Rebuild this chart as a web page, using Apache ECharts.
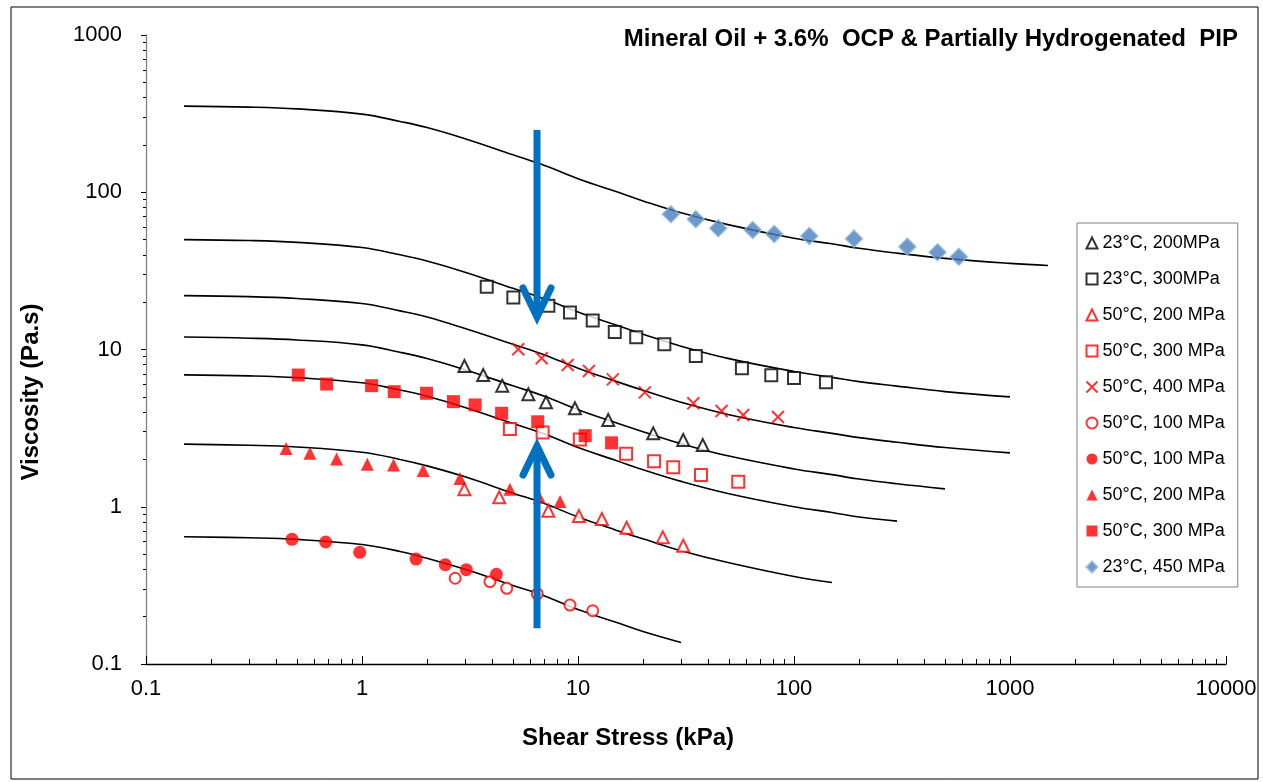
<!DOCTYPE html>
<html>
<head>
<meta charset="utf-8">
<script src="https://cdn.jsdelivr.net/npm/echarts@6/dist/echarts.min.js"></script>
<style>
  html, body { margin: 0; padding: 0; background: #fff; }
  #main { width: 1263px; height: 782px; }
</style>
</head>
<body>
<div id="main"></div>
<script>
// stress grid (kPa) shared by the model curves
var curveX = [0.15, 0.3, 0.5, 1, 1.5, 2, 3, 5, 7, 10, 15, 20, 30, 50, 100, 150, 200, 300, 500, 1000, 1500];

// model curves (viscosity Pa.s)
var fit23_450 = [353, 348, 339, 314, 282, 258, 219, 173, 148, 122, 101, 88, 74, 62, 51, 47, 44, 41, 38, 35.3, 34.2];
var fit23_300 = [50, 49.3, 48, 44.5, 40, 36.5, 31, 24.5, 21, 17.3, 14.3, 12.5, 10.5, 8.75, 7.25, 6.65, 6.25, 5.85, 5.4, 5.0];
var fit50_400 = [22, 21.7, 21.1, 19.6, 17.6, 16.1, 13.6, 10.8, 9.24, 7.6, 6.27, 5.5, 4.62, 3.85, 3.19, 2.93, 2.75, 2.57, 2.38, 2.2];
var fit23_200 = [12, 11.8, 11.5, 10.7, 9.6, 8.76, 7.44, 5.88, 5.04, 4.14, 3.42, 3.0, 2.52, 2.1, 1.74, 1.6, 1.5, 1.4, 1.3];
var fit50_300 = [6.9, 6.8, 6.62, 6.14, 5.52, 5.04, 4.28, 3.38, 2.9, 2.38, 1.97, 1.72, 1.45, 1.21, 1.0, 0.92, 0.86, 0.81];
var fit50_200 = [2.5, 2.46, 2.4, 2.22, 2.0, 1.82, 1.55, 1.22, 1.05, 0.86, 0.71, 0.625, 0.525, 0.44, 0.36, 0.33];
var fit50_100 = [0.645, 0.635, 0.62, 0.575, 0.52, 0.47, 0.40, 0.316, 0.271, 0.222, 0.184, 0.161, 0.137];

// measured points
var tri23_200X = [2.98, 3.64, 4.46, 5.89, 7.11, 9.68, 13.8, 22.3, 30.7, 37.8];
var tri23_200Y = [7.85, 6.88, 5.89, 5.19, 4.62, 4.23, 3.56, 2.93, 2.66, 2.47];
var sq23_300X = [3.78, 5.02, 7.29, 9.18, 11.7, 14.8, 18.6, 25.1, 35.1, 57.4, 78.5, 100, 140.6];
var sq23_300Y = [25.1, 21.4, 19.0, 17.2, 15.3, 12.9, 11.95, 10.8, 9.1, 7.59, 6.85, 6.59, 6.19];
var triOpen50_200X = [2.98, 4.32, 7.29, 10.1, 12.9, 16.8, 24.7, 30.7];
var triOpen50_200Y = [1.29, 1.15, 0.944, 0.873, 0.836, 0.736, 0.639, 0.565];
var sqOpen50_300X = [4.84, 6.86, 10.2, 16.7, 22.5, 27.6, 37.1, 55.2];
var sqOpen50_300Y = [3.12, 2.97, 2.68, 2.17, 1.95, 1.78, 1.59, 1.44];
var cross50_400X = [5.29, 6.79, 8.96, 11.24, 14.5, 20.4, 34.2, 46.2, 58.2, 84.3];
var cross50_400Y = [10.03, 8.79, 7.97, 7.30, 6.46, 5.34, 4.55, 4.06, 3.83, 3.72];
var circOpen50_100X = [2.70, 3.91, 4.68, 6.48, 9.18, 11.7];
var circOpen50_100Y = [0.351, 0.334, 0.303, 0.279, 0.237, 0.218];
var circ50_100X = [0.474, 0.679, 0.976, 1.78, 2.43, 3.04, 4.19];
var circ50_100Y = [0.621, 0.597, 0.513, 0.465, 0.428, 0.398, 0.372];
var tri50_200X = [0.445, 0.574, 0.763, 1.058, 1.40, 1.92, 2.84, 4.84, 6.62, 8.26];
var tri50_200Y = [2.35, 2.19, 2.01, 1.86, 1.84, 1.70, 1.51, 1.29, 1.15, 1.08];
var sq50_300X = [0.507, 0.686, 1.108, 1.41, 1.99, 2.65, 3.34, 4.43, 6.51, 10.8, 14.3];
var sq50_300Y = [6.88, 6.03, 5.89, 5.39, 5.27, 4.66, 4.44, 3.93, 3.47, 2.83, 2.55];
var dia23_450X = [26.9, 35.1, 44.6, 64.4, 81.0, 117.7, 189.6, 334.6, 462, 580];
var dia23_450Y = [72.4, 67.3, 59.0, 57.5, 54.3, 52.7, 50.7, 45.1, 41.5, 38.9];

// blue arrows: x, from, to
var arrowX = [6.46, 6.46];
var arrowFrom = [249, 0.169];
var arrowTo = [16.1, 2.43];

var FONT = "'Liberation Sans', Arial, sans-serif";
var RED = '#ff0000';

function pairs(xs, ys) {
  return ys.map(function (y, i) { return [xs[i], y]; });
}

function fit(name, ys) {
  return {
    name: name,
    type: 'line',
    data: pairs(curveX, ys),
    smooth: 0.4,
    symbol: 'none',
    silent: true,
    z: 2,
    lineStyle: { color: '#000', width: 1.6 }
  };
}

function pts(name, xs, ys, symbol, size, style) {
  return {
    name: name,
    type: 'scatter',
    data: pairs(xs, ys),
    symbol: symbol,
    symbolSize: size,
    z: 3,
    itemStyle: style
  };
}

var crossPath = 'path://M0,0L10,10M10,0L0,10';

var scatterNames = ['23°C, 200MPa', '23°C, 300MPa', '50°C, 200 MPa', '50°C, 300 MPa', '50°C, 400 MPa',
  '50°C, 100 MPa', '50°C, 100 MPa ', '50°C, 200 MPa ', '50°C, 300 MPa ', '23°C, 450 MPa'];

var myChart = echarts.init(document.getElementById('main'));

var option = {
  backgroundColor: '#fff',
  animation: false,
  title: {
    text: 'Mineral Oil + 3.6%  OCP & Partially Hydrogenated  PIP',
    right: 20,
    top: 22,
    textStyle: { fontFamily: FONT, fontSize: 24, fontWeight: 'bold', color: '#000' }
  },
  grid: { left: 146, right: 37, top: 35, bottom: 118 },
  legend: {
    data: scatterNames,
    orient: 'vertical',
    left: 1077,
    top: 223,
    itemWidth: 11,
    itemHeight: 11,
    itemGap: 16,
    padding: [10, 8, 10, 7],
    borderColor: '#7f7f7f',
    borderWidth: 1,
    textStyle: { fontFamily: FONT, fontSize: 18, lineHeight: 20, color: '#000' }
  },
  xAxis: {
    type: 'log',
    logBase: 10,
    min: 0.1,
    max: 10000,
    axisLine: { lineStyle: { color: '#000', width: 1.3 } },
    axisTick: { inside: true, length: 8, lineStyle: { color: '#000' } },
    minorTick: { show: true, splitNumber: 9, length: 5, lineStyle: { color: '#000' } },
    splitLine: { show: false },
    axisLabel: {
      fontFamily: FONT, fontSize: 22, color: '#000', margin: 14,
      formatter: function (v) { return String(+v.toPrecision(6)); }
    }
  },
  yAxis: {
    type: 'log',
    logBase: 10,
    min: 0.1,
    max: 1000,
    axisLine: { show: true, lineStyle: { color: '#808080', width: 1.3 } },
    axisTick: { show: true, length: 5, lineStyle: { color: '#000' } },
    minorTick: { show: true, splitNumber: 9, length: 3, lineStyle: { color: '#000' } },
    splitLine: { show: false },
    axisLabel: {
      fontFamily: FONT, fontSize: 22, color: '#000', margin: 24,
      formatter: function (v) { return String(+v.toPrecision(6)); }
    }
  },
  graphic: [{
    type: 'rect',
    shape: { x: 11, y: 7, width: 1247, height: 772 },
    style: { fill: 'none', stroke: '#000', lineWidth: 1 },
    silent: true
  }, {
    type: 'text',
    x: 628,
    y: 738,
    style: { text: 'Shear Stress (kPa)', align: 'center', verticalAlign: 'middle', font: 'bold 24px ' + FONT, fill: '#000' },
    silent: true
  }, {
    type: 'text',
    x: 31,
    y: 392,
    rotation: Math.PI / 2,
    style: { text: 'Viscosity (Pa.s)', align: 'center', verticalAlign: 'middle', font: 'bold 24px ' + FONT, fill: '#000' },
    silent: true
  }],
  series: [
    fit('fit450', fit23_450),
    fit('fit23_300', fit23_300),
    fit('fit50_400', fit50_400),
    fit('fit23_200', fit23_200),
    fit('fit50_300', fit50_300),
    fit('fit50_200', fit50_200),
    fit('fit50_100', fit50_100),
    pts(scatterNames[0], tri23_200X, tri23_200Y, 'emptyTriangle', 12, { color: '#000', borderWidth: 1.5 }),
    pts(scatterNames[1], sq23_300X, sq23_300Y, 'emptyRect', 12, { color: '#000', borderWidth: 1.5 }),
    pts(scatterNames[2], triOpen50_200X, triOpen50_200Y, 'emptyTriangle', 12, { color: RED, borderWidth: 1.5 }),
    pts(scatterNames[3], sqOpen50_300X, sqOpen50_300Y, 'emptyRect', 12, { color: RED, borderWidth: 1.5 }),
    pts(scatterNames[4], cross50_400X, cross50_400Y, crossPath, 12, { color: 'none', borderColor: RED, borderWidth: 2 }),
    pts(scatterNames[5], circOpen50_100X, circOpen50_100Y, 'emptyCircle', 11, { color: RED, borderWidth: 1.5 }),
    pts(scatterNames[6], circ50_100X, circ50_100Y, 'circle', 13, { color: RED }),
    pts(scatterNames[7], tri50_200X, tri50_200Y, 'triangle', 13, { color: RED }),
    pts(scatterNames[8], sq50_300X, sq50_300Y, 'rect', 13, { color: RED }),
    pts(scatterNames[9], dia23_450X, dia23_450Y, 'diamond', 17, { color: '#4a7ebb', borderColor: '#8cb8e0', borderWidth: 1.5 }),
    {
      name: 'arrows',
      type: 'custom',
      z: 5,
      silent: true,
      data: arrowX.map(function (x, i) { return [x, arrowFrom[i], arrowTo[i]]; }),
      encode: { x: 0, y: [1, 2] },
      renderItem: function (params, api) {
        var s = api.coord([api.value(0), api.value(1)]);
        var e = api.coord([api.value(0), api.value(2)]);
        var dir = e[1] > s[1] ? 1 : -1;
        var st = { stroke: '#0070c0', lineWidth: 7, fill: 'none', lineCap: 'round', lineJoin: 'miter' };
        return {
          type: 'group',
          children: [
            { type: 'line', shape: { x1: s[0], y1: s[1], x2: e[0], y2: e[1] - dir * 3 }, style: { stroke: '#0070c0', lineWidth: 7 } },
            { type: 'polyline', shape: { points: [[e[0] - 14, e[1] - dir * 29], [e[0], e[1]], [e[0] + 14, e[1] - dir * 29]] }, style: st }
          ]
        };
      }
    }
  ]
};

myChart.setOption(option);
</script>
</body>
</html>
